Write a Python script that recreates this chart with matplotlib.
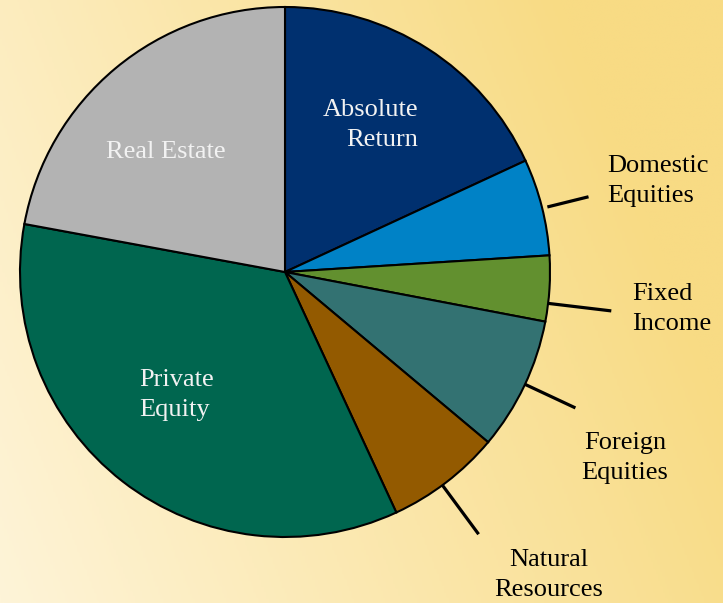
import numpy as np
import matplotlib.pyplot as plt
from matplotlib.colors import LinearSegmentedColormap

# asset allocation (percent), clockwise from 12 o'clock
categories = ["Absolute Return", "Domestic Equities", "Fixed Income",
              "Foreign Equities", "Natural Resources", "Private Equity",
              "Real Estate"]
shares = [18.1, 5.9, 4.0, 8.1, 7.0, 34.8, 22.1]
labels = ["Absolute\nReturn", "Domestic\nEquities", "Fixed\nIncome",
          "Foreign\nEquities", "Natural\nResources", "Private\nEquity",
          "Real Estate"]

colors = ["#00306F", "#0082C6", "#62902F", "#337272",
          "#935A00", "#00664F", "#B3B3B3"]

W, H = 723, 603
fig = plt.figure(figsize=(W / 100, H / 100), dpi=100)

# background gradient, light cream on the left to gold on the right
bg = fig.add_axes([0, 0, 1, 1])
xx, yy = np.meshgrid(np.linspace(0, 1, 300), np.linspace(0, 1, 250))
t = np.clip(xx * 0.9 + (1 - yy) * 0.3, 0, 1)
cmap = LinearSegmentedColormap.from_list("bg", ["#FEF4D8", "#F8DB84"])
bg.imshow(t, cmap=cmap, aspect="auto", extent=[0, 1, 0, 1], origin="upper")
bg.axis("off")

ax = fig.add_axes([0, 0, 1, 1])
cx, cy, r = 285, H - 272, 265
wedges, _ = ax.pie(shares, colors=colors, startangle=90, counterclock=False,
                   center=(cx, cy), radius=r,
                   wedgeprops=dict(edgecolor="black", linewidth=1.5))
ax.set_xlim(0, W)
ax.set_ylim(0, H)
ax.set_aspect("equal")
ax.axis("off")

font = dict(family="Liberation Serif", fontsize=19)

# label layout: (x, y in px from top, ha, text colour)
layout = {
    "Absolute Return": (418, 125, "right", "#F2F2F2"),
    "Domestic Equities": (607, 181, "left", "black"),
    "Fixed Income": (632, 309, "left", "black"),
    "Foreign Equities": (625, 458, "center", "black"),
    "Natural Resources": (549, 575, "center", "black"),
    "Private Equity": (139, 395, "left", "#F2F2F2"),
    "Real Estate": (166, 152, "center", "#F2F2F2"),
}
# leader lines: angle nudge (deg), inner and outer radius factors
leaders = {
    "Domestic Equities": (-0.3, 1.02, 1.18),
    "Fixed Income": (-3.2, 1.0, 1.24),
    "Foreign Equities": (0.3, 1.0, 1.21),
    "Natural Resources": (-1.0, 1.0, 1.23),
}

for name, lab, w in zip(categories, labels, wedges):
    x, y, ha, col = layout[name]
    ax.text(x, H - y, lab, ha=ha, va="center", multialignment=ha,
            color=col, linespacing=1.52, **font)
    if name in leaders:
        da, r0, r1 = leaders[name]
        a = np.deg2rad((w.theta1 + w.theta2) / 2 + da)
        ax.plot([cx + r * r0 * np.cos(a), cx + r * r1 * np.cos(a)],
                [cy + r * r0 * np.sin(a), cy + r * r1 * np.sin(a)],
                color="black", lw=2.3, solid_capstyle="butt")

fig.savefig("out.png", dpi=100)
